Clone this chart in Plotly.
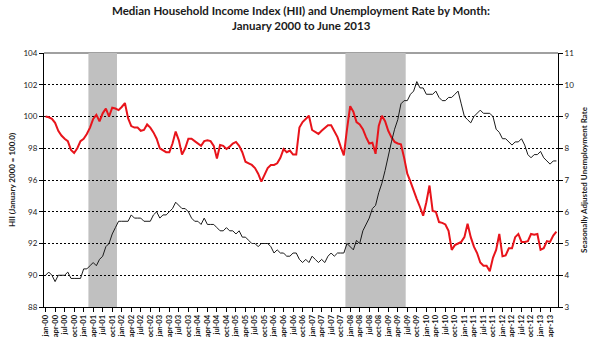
import plotly.graph_objects as go
import pandas as pd

# ---------------- data ----------------
months = pd.date_range("2000-01-01", "2013-06-01", freq="MS")
month_labels = [d.strftime("%b-%y").lower() for d in months]

# Median Household Income Index (Jan 2000 = 100.0), left axis
hii = [
    100.0, 99.95, 99.85, 99.6, 99.1, 98.8, 98.6, 98.45, 97.9, 97.7, 98.0, 98.45,      # 2000
    98.6, 98.9, 99.3, 99.85, 100.1, 99.7, 100.2, 100.5, 100.0, 100.55, 100.5, 100.4,  # 2001
    100.6, 100.85, 99.9, 99.4, 99.3, 99.3, 99.1, 99.15, 99.5, 99.3, 99.0, 98.6,       # 2002
    98.0, 97.9, 97.75, 97.75, 98.3, 99.05, 98.5, 97.6, 98.0, 98.6, 98.6, 98.45,       # 2003
    98.3, 98.15, 98.45, 98.5, 98.45, 98.15, 97.35, 98.2, 98.15, 97.95, 98.1, 98.3,    # 2004
    98.4, 98.15, 97.75, 97.15, 97.05, 96.95, 96.75, 96.4, 95.9, 96.3, 96.75, 96.95,   # 2005
    96.95, 97.05, 97.4, 97.95, 97.75, 97.85, 97.6, 97.6, 99.3, 99.65, 99.85, 100.05,  # 2006
    99.15, 99.0, 98.9, 99.1, 99.3, 99.45, 99.45, 99.1, 98.7, 98.1, 97.55, 99.2,       # 2007
    100.65, 100.3, 99.65, 99.5, 99.2, 98.7, 98.3, 98.35, 97.65, 99.4, 100.05, 99.7,   # 2008
    99.1, 98.7, 98.4, 98.3, 98.25, 97.4, 96.4, 95.9, 95.3, 94.8, 94.3, 93.75,         # 2009
    94.6, 95.65, 94.05, 94.0, 93.35, 93.3, 93.2, 92.8, 91.6, 91.9, 92.0, 92.1,        # 2010
    92.4, 93.25, 92.4, 91.8, 91.4, 90.8, 90.6, 90.6, 90.25, 91.1, 91.6, 92.6,         # 2011
    91.2, 91.25, 91.7, 91.7, 92.4, 92.6, 92.1, 92.1, 92.15, 92.6, 92.55, 92.6,        # 2012
    91.6, 91.7, 92.15, 92.1, 92.5, 92.75,                                             # 2013
]

# Seasonally adjusted unemployment rate (%), right axis
unemp = [
    4.0, 4.1, 4.0, 3.8, 4.0, 4.0, 4.0, 4.1, 3.9, 3.9, 3.9, 3.9,   # 2000
    4.2, 4.2, 4.3, 4.4, 4.3, 4.5, 4.6, 4.9, 5.0, 5.3, 5.5, 5.7,   # 2001
    5.7, 5.7, 5.7, 5.9, 5.8, 5.8, 5.8, 5.7, 5.7, 5.7, 5.9, 6.0,   # 2002
    5.8, 5.9, 5.9, 6.0, 6.1, 6.3, 6.2, 6.1, 6.1, 6.0, 5.8, 5.7,   # 2003
    5.7, 5.6, 5.8, 5.6, 5.6, 5.6, 5.5, 5.4, 5.4, 5.5, 5.4, 5.4,   # 2004
    5.3, 5.4, 5.2, 5.2, 5.1, 5.0, 5.0, 4.9, 5.0, 5.0, 5.0, 4.9,   # 2005
    4.7, 4.8, 4.7, 4.7, 4.6, 4.6, 4.7, 4.7, 4.5, 4.4, 4.5, 4.4,   # 2006
    4.6, 4.5, 4.4, 4.5, 4.4, 4.6, 4.7, 4.6, 4.7, 4.7, 4.7, 5.0,   # 2007
    4.9, 4.8, 5.1, 5.0, 5.4, 5.6, 5.8, 6.1, 6.2, 6.6, 6.9, 7.3,   # 2008
    7.8, 8.2, 8.6, 8.9, 9.4, 9.5, 9.5, 9.7, 9.8, 10.1, 9.9, 9.9,  # 2009
    9.7, 9.7, 9.7, 9.8, 9.6, 9.5, 9.5, 9.6, 9.6, 9.7, 9.8, 9.4,   # 2010
    9.0, 8.9, 8.8, 9.0, 9.1, 9.2, 9.1, 9.1, 9.1, 9.0, 8.6, 8.5,   # 2011
    8.3, 8.3, 8.2, 8.1, 8.2, 8.2, 8.3, 8.1, 7.8, 7.7, 7.8, 7.8,   # 2012
    7.9, 7.7, 7.6, 7.5, 7.6, 7.6,                                 # 2013
]

recessions = [("mar-01", "nov-01"), ("dec-07", "jun-09")]
tick_step = 3

title_lines = [
    "Median Household Income Index (HII) and Unemployment Rate by Month:",
    "January 2000 to June 2013",
]

# ---------------- figure ----------------
FONT = "Lato"
W, H = 600, 349
M = dict(l=35, r=37, t=53, b=35)
plot_h = H - M["t"] - M["b"]

idx = list(range(len(month_labels)))
tickvals = idx[::tick_step]
ticktext = month_labels[::tick_step]

fig = go.Figure()
fig.add_trace(go.Scatter(x=idx, y=hii, mode="lines", yaxis="y",
                         line=dict(color="#e8141b", width=2), hoverinfo="skip"))
fig.add_trace(go.Scatter(x=idx, y=unemp, mode="lines", yaxis="y2",
                         line=dict(color="#1a1a1a", width=1), hoverinfo="skip"))

# top border line (covered by recession bands)
fig.add_shape(type="line", xref="paper", yref="paper", x0=0, x1=1, y0=1, y1=1,
              line=dict(color="#808080", width=1.5), layer="between")
for a, b in recessions:
    s, e = month_labels.index(a), month_labels.index(b)
    fig.add_shape(type="rect", xref="x", yref="paper", x0=s - 0.5, x1=e + 0.5,
                  y0=0, y1=1, fillcolor="#c0c0c0", line=dict(width=0), layer="between")

# title lines as annotations (pixel centres ~9 and ~25 from top)
for line_text, y_px in zip(title_lines, [9, 25]):
    fig.add_annotation(
        text="<b>" + line_text + "</b>", xref="paper", yref="paper",
        x=0.5, xanchor="center", y=1 + (M["t"] - y_px) / plot_h, yanchor="middle",
        showarrow=False, font=dict(family=FONT, size=11.5, color="#1a1a1a"),
    )

fig.update_layout(
    width=W, height=H,
    margin=M,
    paper_bgcolor="white", plot_bgcolor="white",
    showlegend=False,
    font=dict(family=FONT, color="#1a1a1a"),
    xaxis=dict(
        range=[-0.5, len(idx) - 0.5], tickmode="array", tickvals=tickvals, ticktext=ticktext,
        tickangle=-90, tickfont=dict(family=FONT, size=7.5, weight="bold"),
        showgrid=False, zeroline=False, showline=True, linecolor="black", linewidth=1,
        ticks="outside", ticklen=4, tickcolor="black", tickwidth=1,
    ),
    yaxis=dict(
        range=[88, 104], dtick=2, tick0=88,
        tickfont=dict(family=FONT, size=8),
        showgrid=True, gridcolor="black", gridwidth=1, griddash="2px,2px",
        zeroline=False, showline=True, linecolor="black", linewidth=1,
        ticks="outside", ticklen=4, tickcolor="black",
        title=dict(text="HII (January 2000 = 100.0)", standoff=6,
                   font=dict(family=FONT, size=8, weight="bold")),
    ),
    yaxis2=dict(
        range=[3, 11], dtick=1, tick0=3, overlaying="y", side="right", anchor="x",
        tickfont=dict(family=FONT, size=8),
        showgrid=False, zeroline=False, showline=True, linecolor="black", linewidth=1,
        ticks="outside", ticklen=4, tickcolor="black",
        title=dict(text="Seasonally Adjusted Unemployment Rate", standoff=8,
                   font=dict(family=FONT, size=8, weight="bold")),
    ),
)

fig.write_html("out.html")
